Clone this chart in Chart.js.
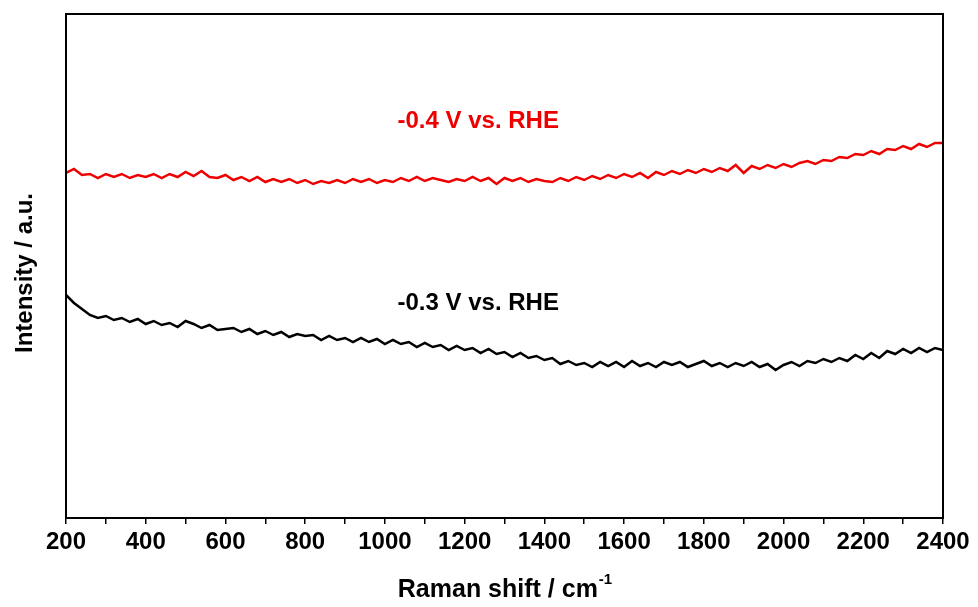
<!DOCTYPE html>
<html>
<head>
<meta charset="utf-8">
<script src="https://cdn.jsdelivr.net/npm/chart.js@4/dist/chart.umd.min.js"></script>
<style>
  html, body { margin: 0; padding: 0; background: #fff; }
  #wrap { width: 978px; height: 607px; }
</style>
</head>
<body>
<div id="wrap"><canvas id="grafico"></canvas></div>
<script>
// grade de deslocamento Raman (cm-1), passo de 20
const deslocamento = Array.from({ length: 111 }, (_, i) => 200 + i * 20);

const rotulosX = [200, 400, 600, 800, 1000, 1200, 1400, 1600, 1800, 2000, 2200, 2400];

// -0.3 V vs. RHE (preto)
const curvaMenos03 = [
  223, 215, 209, 203, 200, 202, 198, 200, 196, 199,
  194, 197, 193, 195, 191, 197, 194, 190, 193, 188,
  189, 190, 186, 189, 184, 187, 183, 186, 181, 184,
  182, 183, 178, 182, 178, 180, 176, 180, 176, 179,
  174, 178, 174, 176, 171, 175, 171, 173, 168, 172,
  168, 170, 165, 169, 164, 166, 161, 165, 160, 162,
  158, 160, 154, 157, 153, 155, 151, 156, 152, 156,
  151, 157, 152, 155, 151, 156, 153, 156, 151, 154,
  157, 152, 155, 151, 155, 152, 156, 151, 154, 148,
  153, 156, 152, 157, 155, 159, 156, 160, 157, 163,
  159, 165, 160, 167, 164, 169, 165, 170, 166, 170,
  168
];

// -0.4 V vs. RHE (vermelho)
const curvaMenos04 = [
  345, 349, 343, 344, 340, 344, 341, 344, 340, 343,
  341, 344, 340, 344, 341, 346, 342, 347, 341, 340,
  343, 338, 341, 337, 341, 336, 339, 336, 339, 335,
  338, 334, 337, 335, 338, 335, 339, 336, 339, 335,
  338, 336, 340, 337, 341, 337, 340, 338, 336, 339,
  337, 341, 337, 340, 334, 340, 337, 340, 336, 339,
  337, 336, 340, 337, 341, 338, 342, 339, 343, 340,
  344, 341, 345, 340, 346, 343, 347, 344, 348, 345,
  349, 346, 350, 347, 353, 345, 352, 349, 353, 350,
  354, 351, 355, 357, 354, 358, 357, 361, 360, 364,
  363, 367, 364, 369, 368, 372, 369, 374, 371, 375,
  375
];

const fonte = '"Liberation Sans", Arial, sans-serif';

const anotacoes = [
  { texto: '-0.4 V vs. RHE', x: 1234, y: 397, cor: '#ee0000' },
  { texto: '-0.3 V vs. RHE', x: 1234, y: 215, cor: '#000000' }
];

const pluginMoldura = {
  id: 'moldura',
  afterDraw(chart) {
    const { ctx, chartArea: a, scales } = chart;
    ctx.save();
    ctx.strokeStyle = '#000';
    ctx.lineWidth = 2;
    ctx.strokeRect(a.left, a.top, a.right - a.left, a.bottom - a.top);

    // rotulos das curvas
    ctx.font = 'bold 24px ' + fonte;
    ctx.textAlign = 'center';
    ctx.textBaseline = 'middle';
    anotacoes.forEach((n) => {
      ctx.fillStyle = n.cor;
      ctx.fillText(n.texto, scales.x.getPixelForValue(n.x), scales.y.getPixelForValue(n.y));
    });

    // titulo do eixo x com expoente
    ctx.fillStyle = '#000';
    ctx.font = 'bold 25px ' + fonte;
    ctx.textBaseline = 'alphabetic';
    const base = 'Raman shift / cm';
    const wBase = ctx.measureText(base).width;
    ctx.font = 'bold 15px ' + fonte;
    const wSup = ctx.measureText('-1').width;
    const cx = (a.left + a.right) / 2;
    const inicio = cx - (wBase + wSup) / 2;
    ctx.textAlign = 'left';
    ctx.font = 'bold 25px ' + fonte;
    ctx.fillText(base, inicio, 597);
    ctx.font = 'bold 15px ' + fonte;
    ctx.fillText('-1', inicio + wBase + 1, 584);

    // titulo do eixo y
    ctx.font = 'bold 24px ' + fonte;
    ctx.textAlign = 'center';
    ctx.textBaseline = 'middle';
    ctx.translate(25, 273);
    ctx.rotate(-Math.PI / 2);
    ctx.fillText('Intensity / a.u.', 0, 0);
    ctx.restore();
  }
};

new Chart(document.getElementById('grafico'), {
  type: 'line',
  data: {
    labels: deslocamento,
    datasets: [
      {
        label: '-0.4 V vs. RHE',
        data: deslocamento.map((x, i) => ({ x, y: curvaMenos04[i] })),
        borderColor: '#ee0000',
        borderWidth: 2.5,
        pointRadius: 0,
        tension: 0
      },
      {
        label: '-0.3 V vs. RHE',
        data: deslocamento.map((x, i) => ({ x, y: curvaMenos03[i] })),
        borderColor: '#000000',
        borderWidth: 2.5,
        pointRadius: 0,
        tension: 0
      }
    ]
  },
  options: {
    responsive: true,
    maintainAspectRatio: false,
    animation: false,
    layout: { padding: { top: 14, right: 35, left: 0, bottom: 0 } },
    plugins: { legend: { display: false }, tooltip: { enabled: false } },
    scales: {
      x: {
        type: 'linear',
        min: 200,
        max: 2400,
        afterFit(scale) { scale.height = 89; },
        afterBuildTicks(scale) {
          const t = [];
          for (let v = 200; v <= 2400; v += 100) t.push({ value: v });
          scale.ticks = t;
        },
        ticks: {
          autoSkip: false,
          maxRotation: 0,
          padding: 4,
          color: '#000',
          font: { family: fonte, size: 24, weight: 'bold' },
          callback: (v) => (rotulosX.includes(v) ? String(v) : '')
        },
        grid: {
          drawOnChartArea: false,
          drawTicks: true,
          tickLength: 6,
          color: '#000',
          lineWidth: 1.5
        },
        border: { display: true, color: '#000', width: 2 }
      },
      y: {
        min: 0,
        max: 504,
        afterFit(scale) { scale.width = 66; },
        ticks: { display: false },
        grid: { display: false, drawTicks: false },
        border: { display: true, color: '#000', width: 2 }
      }
    }
  },
  plugins: [pluginMoldura]
});
</script>
</body>
</html>
